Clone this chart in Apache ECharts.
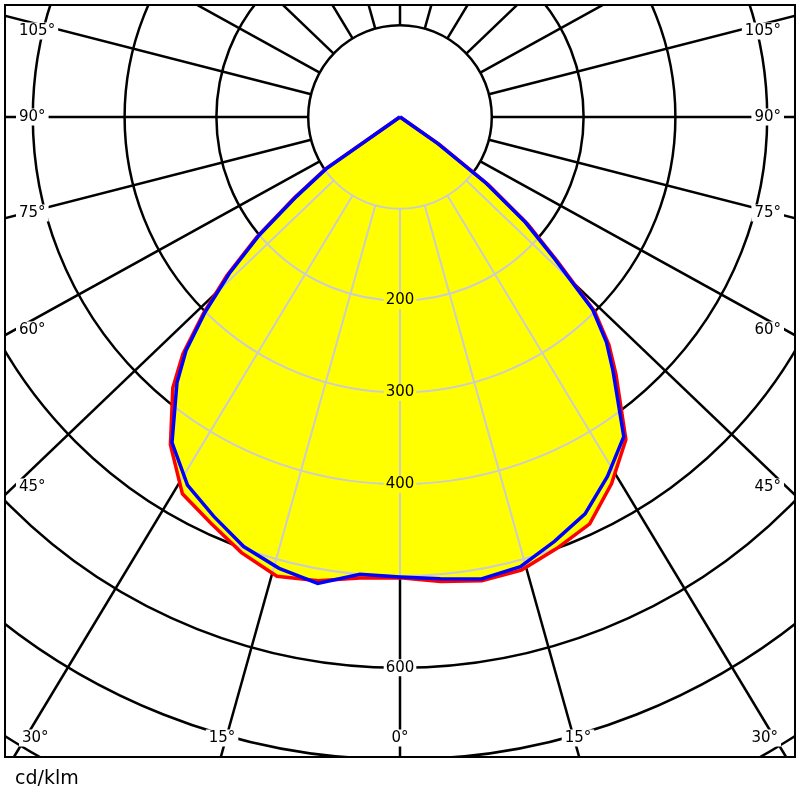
<!DOCTYPE html>
<html><head><meta charset="utf-8">
<script src="https://cdn.jsdelivr.net/npm/echarts@6/dist/echarts.min.js"></script>
<style>html,body{margin:0;padding:0;background:#fff}#c{width:800px;height:800px}</style>
</head><body><div id="c"></div>
<script>
// ---- data ----
const gammaAngles = [-90,-85,-80,-75,-70,-65,-60,-57.5,-55,-52.5,-50,-47.5,-45,-42.5,-40,-35,-30,-25,-20,-15,-10,-5,0,5,10,15,20,25,30,35,40,42.5,45,47.5,50,52.5,55,57.5,60,65,70,75,80,85,90];
const bluePlane  = [0,0,0,0,0,0,0,2,98,142,200,252,300,345,378,433,463,480,498,509,516,500,501,505,511,507,492,477,452,425,361,333,297,228,178,118,50,2,0,0,0,0,0,0,0];
const redPlane   = [0,0,0,0,0,0,0,2,100,146,204,256,303,350,385,436,474,488,505,518,513,504,502,508,513,511,500,489,461,429,366,337,300,232,182,121,53,2,0,0,0,0,0,0,0];
const ringValues = [100,200,300,400,500,600,700,800];
const spokeAngles = [-165,-150,-135,-120,-105,-90,-75,-60,-45,-30,-15,0,15,30,45,60,75,90,105,120,135,150,165,180];
const radialTickValues = [200,300,400,600];
const radialTickLabels = ['200','300','400','600'];
const angleTickLabels = ['105°','90°','75°','60°','45°','30°','15°','0°','15°','30°','45°','60°','75°','90°','105°'];
const unitLabel = 'cd/klm';

// ---- layout ----
const CX = 400, CY = 117, PX_PER_UNIT = 0.918, RMAX = 900;
const SPOKE_ASPECT = 0.957;   // spokes in the reference are drawn on a slightly squashed vertical scale
const angleLabelPos = [
  [16,31,'left'],[16,117,'left'],[16,213,'left'],[16,330,'left'],[16,487,'left'],[19,738,'left'],
  [222,738,'center'],[400,738,'center'],[578,738,'center'],
  [781,738,'right'],[784,487,'right'],[784,330,'right'],[784,213,'right'],[784,117,'right'],[784,31,'right']
];
const FONT = '15px "DejaVu Sans"';
const GRID_BLACK = '#000', GRID_GRAY = '#cccccc';
const BLACK_W = 2.5, GRAY_W = 2;

const chart = echarts.init(document.getElementById('c'), null, {renderer:'canvas'});

const graphics = [
  {type:'rect', z:100, shape:{x:0,y:0,width:800,height:4}, style:{fill:'#fff'}},
  {type:'rect', z:100, shape:{x:0,y:0,width:4,height:800}, style:{fill:'#fff'}},
  {type:'rect', z:100, shape:{x:796,y:0,width:4,height:800}, style:{fill:'#fff'}},
  {type:'rect', z:100, shape:{x:0,y:758,width:800,height:42}, style:{fill:'#fff'}},
  {type:'rect', z:101, shape:{x:5,y:5,width:790,height:752}, style:{fill:'none', stroke:'#000', lineWidth:2}}
];
angleTickLabels.forEach((t,i)=>{
  const p = angleLabelPos[i];
  graphics.push({type:'text', z:102, x:p[0], y:p[1], style:{text:t, font:FONT, fill:'#000',
    align:p[2], verticalAlign:'middle', textAlign:p[2], textVerticalAlign:'middle',
    backgroundColor:'#fff', padding:[1,3,1,3]}});
});
graphics.push({type:'text', z:102, x:15, y:779, style:{text:unitLabel, font:'19px "DejaVu Sans"', fill:'#000',
  align:'left', verticalAlign:'middle', textAlign:'left', textVerticalAlign:'middle'}});

function spokeDisplayAngle(g){
  const r = g*Math.PI/180;
  return Math.atan2(Math.sin(r), SPOKE_ASPECT*Math.cos(r))*180/Math.PI;
}

const option = {
  animation:false,
  backgroundColor:'#fff',
  polar:[
    {center:[CX,CY], radius:[100*PX_PER_UNIT, RMAX*PX_PER_UNIT]},
    {center:[CX,CY], radius:[0, RMAX*PX_PER_UNIT]}
  ],
  angleAxis:[
    {polarIndex:0, type:'value', min:0, max:360, interval:15, startAngle:90,
     axisLine:{show:false}, axisTick:{show:false}, axisLabel:{show:false}, splitLine:{show:false}},
    {polarIndex:1, type:'value', min:-180, max:180, startAngle:90, clockwise:false, show:false,
     axisLine:{show:false}, axisTick:{show:false}, axisLabel:{show:false}, splitLine:{show:false}}
  ],
  radiusAxis:[
    {polarIndex:0, type:'value', min:100, max:RMAX, interval:100,
     axisLine:{show:false}, axisTick:{show:false}, axisLabel:{show:false},
     splitLine:{show:true, lineStyle:{color:GRID_BLACK, width:BLACK_W}}},
    {polarIndex:1, type:'value', min:0, max:RMAX, show:false,
     axisLine:{show:false}, axisTick:{show:false}, axisLabel:{show:false}, splitLine:{show:false}}
  ],
  series:[{
    type:'custom', coordinateSystem:'polar', polarIndex:1, silent:true, z:5,
    data:[[0,0]],
    renderItem:function(params, api){
      const pt = (r,a)=>api.coord([r,a]);
      const c = pt(0,0);
      const unit = Math.abs(pt(100,0)[1]-c[1])/100;
      const toPts = vals => gammaAngles.map((g,i)=>pt(vals[i], g));
      const bluePts = toPts(bluePlane), redPts = toPts(redPlane);
      const envPts = gammaAngles.map((g,i)=>pt(Math.max(bluePlane[i], redPlane[i]), g));
      const spokes = (color, w) => spokeAngles.map(a=>{
        const d = spokeDisplayAngle(a);
        const p1 = pt(100,d), p2 = pt(RMAX,d);
        return {type:'line', shape:{x1:p1[0],y1:p1[1],x2:p2[0],y2:p2[1]}, style:{stroke:color, lineWidth:w}};
      });
      const grid = ringValues.map(v=>({type:'circle', shape:{cx:c[0], cy:c[1], r:v*unit},
        style:{fill:'none', stroke:GRID_GRAY, lineWidth:GRAY_W}})).concat(spokes(GRID_GRAY, GRAY_W));
      const i0 = gammaAngles.indexOf(0);
      const labels = radialTickValues.map((v,i)=>{
        const p = pt(v,0);
        const inside = v < Math.min(bluePlane[i0], redPlane[i0]);
        return {type:'text', x:p[0], y:p[1], style:{text:radialTickLabels[i], font:FONT, fill:'#000',
          align:'center', verticalAlign:'middle', textAlign:'center', textVerticalAlign:'middle',
          backgroundColor: inside ? '#ffff00' : '#fff', padding:[1,2,1,2]}};
      });
      return {type:'group', children:
        spokes(GRID_BLACK, BLACK_W).concat([
        {type:'polygon', shape:{points:redPts}, style:{fill:'#ffff00', stroke:'none'}},
        {type:'polygon', shape:{points:bluePts}, style:{fill:'#ffff00', stroke:'none'}},
        {type:'group', clipPath:{type:'polygon', shape:{points:envPts}}, children:grid},
        {type:'polyline', shape:{points:redPts}, style:{fill:'none', stroke:'#ff0000', lineWidth:3.5, lineJoin:'miter'}},
        {type:'polyline', shape:{points:bluePts}, style:{fill:'none', stroke:'#0000ff', lineWidth:3.5, lineJoin:'miter'}}
      ]).concat(labels)};
    }
  }],
  graphic:{elements:graphics}
};
chart.setOption(option);
</script>
</body></html>
